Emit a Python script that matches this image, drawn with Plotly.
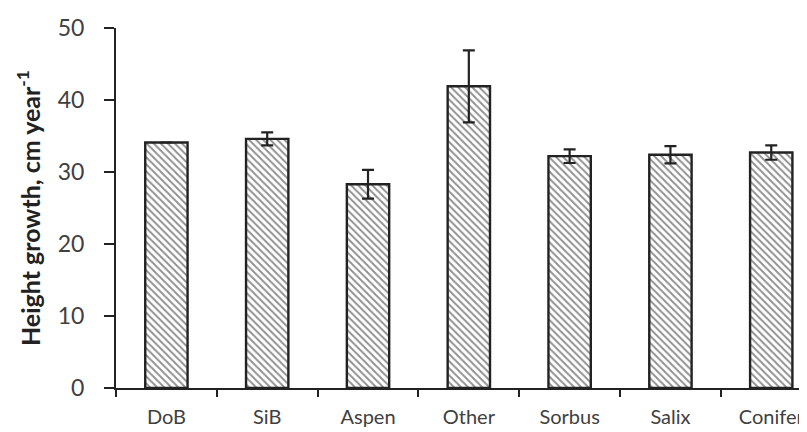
import plotly.graph_objects as go

categories = ["DoB", "SiB", "Aspen", "Other", "Sorbus", "Salix", "Conifer"]
values = [34.1, 34.6, 28.3, 41.9, 32.2, 32.4, 32.7]
errors = [None, 0.9, 2.0, 5.0, 0.95, 1.2, 1.0]
y_ticks = [0, 10, 20, 30, 40, 50]

fig = go.Figure(go.Bar(
    x=categories,
    y=values,
    width=0.42,
    marker=dict(
        color="white",
        line=dict(color="#222222", width=2.4),
        pattern=dict(shape="\\", fgcolor="#222222", bgcolor="white", size=5, solidity=0.4),
    ),
    error_y=dict(type="data", array=errors, visible=True, color="#222222", thickness=2.2, width=6),
))

fig.update_layout(
    width=807, height=432,
    margin=dict(l=108, r=0, t=20, b=52),
    paper_bgcolor="white", plot_bgcolor="white",
    font=dict(family="Lato, Open Sans, sans-serif", color="#404040"),
    showlegend=False,
)
fig.update_xaxes(
    range=[-0.5, 6.434],
    showline=True, linecolor="#222222", linewidth=2,
    ticks="outside", tickson="boundaries", ticklen=7, tickwidth=2, tickcolor="#222222",
    tickfont=dict(size=20, color="#404040"),
    ticklabelstandoff=10,
    showgrid=False,
)
fig.update_yaxes(
    range=[0, 50], tickvals=y_ticks,
    showline=True, linecolor="#222222", linewidth=2,
    ticks="outside", ticklen=10, tickwidth=2, tickcolor="#222222",
    tickfont=dict(size=23, color="#404040"),
    ticklabelstandoff=15,
    showgrid=False, zeroline=False,
    title=dict(text="<b>Height growth, cm year<sup>-1</sup></b>", font=dict(size=25, color="#222222"), standoff=10),
)

fig.write_html("out.html")
